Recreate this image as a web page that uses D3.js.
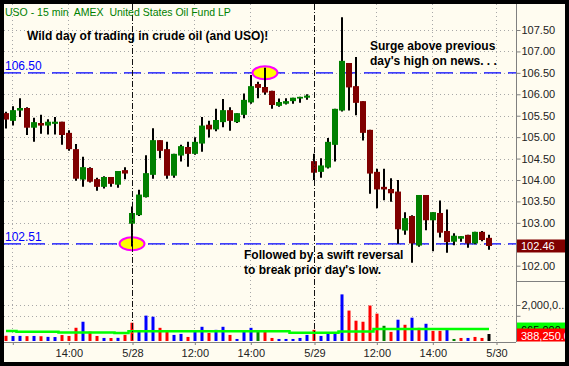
<!DOCTYPE html>
<html>
<head>
<meta charset="utf-8">
<script src="https://cdnjs.cloudflare.com/ajax/libs/d3/7.8.5/d3.min.js"></script>
<style>
  body { margin: 0; background: #000; }
  svg { display: block; font-family: "Liberation Sans", Arial, sans-serif; }
</style>
</head>
<body>
<svg width="569" height="366"></svg>
<script>
// USO 15 min bars, 5/27 (partial) .. 5/29
const opens = [
  105.56,105.38,105.62,105.68,105.22,105.33,105.27,105.31,105.36,105.10,104.72,104.01,104.28,104.02,103.84,104.07,103.89,104.23,
  102.98,103.18,103.60,104.12,104.93,104.72,104.10,104.57,104.77,104.61,104.85,105.29,105.18,105.35,105.63,105.35,105.52,105.81,106.24,106.17,106.08,105.73,105.78,105.84,105.90,105.92,
  104.44,104.19,104.29,104.82,105.62,106.73,106.19,105.84,105.17,104.19,103.84,103.79,103.73,102.82,103.16,102.47,103.65,103.06,103.23,102.81,102.56,102.63,102.72,102.52,102.79,102.65]
const highs = [
  105.59,105.72,105.91,105.70,105.45,105.52,105.42,105.47,105.36,105.16,104.84,104.54,104.30,104.05,104.09,104.07,104.21,104.30,
  103.38,103.77,104.58,105.21,104.93,104.89,104.61,104.82,104.89,105.00,105.47,105.38,105.66,105.89,105.70,105.56,106.02,106.45,106.29,106.62,106.08,105.90,105.91,105.92,105.94,106.00,
  104.61,104.51,104.98,105.66,107.80,106.73,106.87,105.84,105.17,104.26,104.26,104.04,104.00,103.25,103.18,103.65,103.65,103.25,103.52,103.31,102.76,102.69,102.72,102.79,102.81,102.72]
const lows = [
  105.20,105.27,105.47,105.05,104.89,105.08,105.06,105.06,104.82,104.68,103.98,103.84,103.94,103.75,103.80,103.84,103.82,104.02,
  102.45,103.16,103.59,104.03,104.51,104.03,104.05,104.43,104.31,104.59,104.66,104.99,105.14,105.23,105.15,105.33,105.44,105.78,105.91,105.99,105.66,105.71,105.76,105.78,105.80,105.87,
  104.00,104.05,104.27,104.43,105.60,105.62,105.51,104.92,103.68,103.34,103.53,103.49,102.51,102.72,102.07,102.44,102.83,102.34,102.66,102.30,102.48,102.56,102.42,102.50,102.57,102.37]
const closes = [
  105.41,105.63,105.68,105.22,105.35,105.27,105.36,105.36,105.05,104.72,104.03,104.30,103.96,103.84,104.07,103.91,104.21,104.15,
  103.23,103.66,104.16,104.93,104.68,104.10,104.61,104.79,104.61,104.89,105.27,105.18,105.40,105.63,105.38,105.56,105.87,106.19,106.15,106.04,105.75,105.82,105.84,105.92,105.94,105.97,
  104.17,104.34,104.89,105.66,106.78,106.16,105.80,105.10,104.15,103.78,103.78,103.69,102.85,103.11,102.52,103.65,103.06,103.25,102.77,102.55,102.70,102.69,102.52,102.79,102.60,102.46]

const volumes = [
  290000,275000,285000,270000,280000,265000,230000,220000,330000,280000,735000,1070000,520000,280000,170000,165000,175000,340000,
  1015000,563000,1410000,1350000,732000,563000,338000,394000,225000,507000,789000,450000,620000,789000,338000,113000,563000,732000,563000,563000,169000,113000,113000,113000,169000,338000,
  620000,282000,450000,394000,2590000,1690000,1127000,1070000,1970000,1520000,845000,507000,1183000,901000,1295000,732000,957000,563000,563000,676000,113000,169000,169000,225000,169000,388250]
const volDir = ('dbbdbdbbdddbddbdbd' + 'dbbbddbbdbbdbbdbbbnddbbbbb' + 'dbbbbdddddndbdbdbddbndbdd').split('')
const volAvg = [
  560000,560000,510000,510000,510000,510000,510000,510000,470000,470000,470000,470000,470000,470000,470000,470000,450000,450000,
  535000,535000,535000,535000,535000,535000,535000,535000,535000,535000,535000,535000,535000,535000,535000,535000,535000,535000,535000,535000,535000,535000,535000,455000,455000,455000,
  455000,455000,455000,455000,525000,525000,525000,525000,525000,665000,665000,665000,665000,665000,665000,665000,665000,665000,665000,665000,665000,665000,665000,665000,665000,665000]

const priceTicks = [102, 102.5, 103, 103.5, 104, 104.5, 105, 105.5, 106, 106.5, 107, 107.5]
const volTicks = [1400000, 2000000]
const volTickLabels = ['', '2,000,0...']
const timeTicks = [0.9, 8.9, 18, 26.9, 34.9, 44, 52.9, 60.9, 70]
const timeLabels = ['', '14:00', '5/28', '12:00', '14:00', '5/29', '12:00', '14:00', '5/30']
const dayStarts = [18, 44]
const levels = [106.50, 102.51]
const levelBars = [37, 18]

const svg = d3.select("svg")
const width = +svg.attr('width')
const height = +svg.attr('height')
const axisX = 516, volBase = 342

svg.append('rect').attr('width', width).attr('height', height).attr('fill', '#000')
svg.append('rect').attr('x', 4).attr('y', 4).attr('width', width - 8).attr('height', height - 8).attr('fill', '#fffcf0')

const xScale = d3.scaleLinear().domain([0, 69]).range([6, 489])
const yScale = d3.scaleLinear().domain([102, 107.5]).range([265.7, 30])
const vScale = d3.scaleLinear().domain([0, 2000000]).range([341, 305])

svg.append('clipPath').attr('id', 'plotclip')
  .append('rect').attr('x', 4).attr('y', 4).attr('width', axisX - 4).attr('height', volBase - 4)

const g = svg.append('g').attr('clip-path', 'url(#plotclip)')

// dotted grid
g.selectAll('.hgrid').data(priceTicks).enter().append('line')
  .attr('x1', 4).attr('x2', axisX)
  .attr('y1', d => Math.round(yScale(d)) + 0.5).attr('y2', d => Math.round(yScale(d)) + 0.5)
  .attr('stroke', '#a8a8a8').attr('stroke-dasharray', '1,3')
g.selectAll('.vgrid').data(volTicks).enter().append('line')
  .attr('x1', 4).attr('x2', axisX)
  .attr('y1', d => Math.round(vScale(d)) + 0.5).attr('y2', d => Math.round(vScale(d)) + 0.5)
  .attr('stroke', '#a8a8a8').attr('stroke-dasharray', '1,3')
g.selectAll('.tgrid').data(timeTicks.filter(t => !dayStarts.includes(t))).enter().append('line')
  .attr('x1', d => Math.round(xScale(d)) + 0.5).attr('x2', d => Math.round(xScale(d)) + 0.5)
  .attr('y1', 4).attr('y2', volBase)
  .attr('stroke', '#a8a8a8').attr('stroke-dasharray', '1,3')

// day separators
svg.selectAll('.day').data(dayStarts).enter().append('line')
  .attr('x1', d => Math.round(xScale(d)) + 0.5).attr('x2', d => Math.round(xScale(d)) + 0.5)
  .attr('y1', 4).attr('y2', volBase + 3)
  .attr('stroke', '#111').attr('stroke-dasharray', '6,2,1,2')

// blue levels
g.selectAll('.level').data(levels).enter().append('line')
  .attr('x1', 4).attr('x2', axisX)
  .attr('y1', d => yScale(d)).attr('y2', d => yScale(d))
  .attr('stroke', '#0000ff').attr('stroke-width', 1.3).attr('stroke-dasharray', '17,7')
g.selectAll('.levelLabel').data(levels).enter().append('text')
  .attr('x', 5).attr('y', d => yScale(d) - 3)
  .attr('font-size', '12px').attr('fill', '#0000ff')
  .text(d => d.toFixed(2))

g.selectAll('ellipse').data(levels).enter().append('ellipse')
  .attr('cx', (d, i) => xScale(levelBars[i]))
  .attr('cy', d => yScale(d))
  .attr('rx', 12.5).attr('ry', 6.5)
  .attr('fill', '#ffff00').attr('stroke', '#ff00ff').attr('stroke-width', 2)

// candles
const idx = d3.range(opens.length)
g.selectAll('.wick').data(idx).enter().append('line')
  .attr('x1', i => xScale(i)).attr('x2', i => xScale(i))
  .attr('y1', i => yScale(highs[i])).attr('y2', i => yScale(lows[i]))
  .attr('stroke', '#000').attr('stroke-width', 2)
g.selectAll('.body').data(idx).enter().append('rect')
  .attr('x', i => xScale(i) - 3).attr('width', 6)
  .attr('y', i => yScale(Math.max(opens[i], closes[i])))
  .attr('height', i => Math.max(1.5, Math.abs(yScale(opens[i]) - yScale(closes[i]))))
  .attr('fill', i => closes[i] >= opens[i] ? '#008000' : '#800000')

// volume
const volColor = { b: '#0000ff', d: '#ff0000', n: '#008000' }
g.selectAll('.vol').data(idx).enter().append('rect')
  .attr('x', i => xScale(i) - 1.5).attr('width', 3)
  .attr('y', i => vScale(volumes[i]))
  .attr('height', i => vScale(0) - vScale(volumes[i]))
  .attr('fill', i => volColor[volDir[i]])

g.append('path').datum(idx)
  .attr('fill', 'none').attr('stroke', '#00ff00').attr('stroke-width', 2.5)
  .attr('d', d3.line().x(i => xScale(i)).y(i => vScale(volAvg[i])).curve(d3.curveStep))

// axes
svg.append('line').attr('x1', axisX + 0.5).attr('x2', axisX + 0.5).attr('y1', 4).attr('y2', volBase)
  .attr('stroke', '#808080')
svg.append('line').attr('x1', 4).attr('x2', axisX).attr('y1', volBase + 0.5).attr('y2', volBase + 0.5)
  .attr('stroke', '#808080')
svg.append('line').attr('x1', axisX).attr('x2', width - 4).attr('y1', 281.5).attr('y2', 281.5)
  .attr('stroke', '#808080')

const yAxis = d3.axisRight(yScale).tickValues(priceTicks).tickSize(4).tickPadding(1)
  .tickFormat(d3.format('.2f'))
const yAxisG = svg.append('g').attr('transform', `translate(${axisX + 0.5},0)`).call(yAxis)
yAxisG.select('.domain').remove()
yAxisG.selectAll('line').attr('stroke', '#808080')
yAxisG.selectAll('text').attr('font-size', '11px').attr('font-family', null).attr('fill', '#222')

const vAxis = d3.axisRight(vScale).tickValues(volTicks).tickSize(4).tickPadding(1)
  .tickFormat((d, i) => volTickLabels[i])
const vAxisG = svg.append('g').attr('transform', `translate(${axisX + 0.5},0)`).call(vAxis)
vAxisG.select('.domain').remove()
vAxisG.selectAll('line').attr('stroke', '#808080')
vAxisG.selectAll('text').attr('font-size', '11px').attr('font-family', null).attr('fill', '#222')

const xAxis = d3.axisBottom(xScale).tickValues(timeTicks).tickSize(3).tickPadding(4)
  .tickFormat((d, i) => timeLabels[i])
const xAxisG = svg.append('g').attr('transform', `translate(0.5,${volBase})`).call(xAxis)
xAxisG.select('.domain').remove()
xAxisG.selectAll('line').attr('stroke', '#808080')
xAxisG.selectAll('text').attr('font-size', '11px').attr('font-family', null).attr('fill', '#222')

// last value boxes
const last = opens.length - 1
svg.append('rect').attr('x', axisX + 1).attr('y', yScale(closes[last]) - 6.5)
  .attr('width', width - axisX).attr('height', 13).attr('fill', '#800000')
svg.append('text').attr('x', axisX + 5).attr('y', yScale(closes[last]) + 4.5)
  .attr('font-size', '11px').attr('fill', '#fff').text(closes[last].toFixed(2))

svg.append('rect').attr('x', axisX + 1).attr('y', vScale(volAvg[last]) - 6.5)
  .attr('width', width - axisX).attr('height', 13).attr('fill', '#00ff00')
svg.append('text').attr('x', axisX + 5).attr('y', vScale(volAvg[last]) + 4.5)
  .attr('font-size', '11px').attr('fill', '#000').text(d3.format(',')(volAvg[last]))
svg.append('rect').attr('x', axisX + 1).attr('y', vScale(volumes[last]) - 5.5)
  .attr('width', width - axisX).attr('height', 13).attr('fill', '#ff0000')
svg.append('text').attr('x', axisX + 5).attr('y', vScale(volumes[last]) + 5.5)
  .attr('font-size', '11px').attr('fill', '#fff').text(d3.format(',.2f')(volumes[last]))

// titles and notes
svg.append('text').attr('x', 5).attr('y', 16).attr('font-size', '10.5px').attr('fill', '#008000')
  .attr('xml:space', 'preserve')
  .text('USO - 15 min  AMEX  United States Oil Fund LP')

const notes = [
  { x: 27, y: 40, t: 'Wild day of trading in crude oil (and USO)!' },
  { x: 370, y: 50, t: 'Surge above previous' },
  { x: 370, y: 65, t: "day's high on news. . ." },
  { x: 244, y: 259, t: 'Followed by a swift reversal' },
  { x: 244, y: 274, t: "to break prior day's low." }
]
svg.selectAll('.note').data(notes).enter().append('text')
  .attr('x', d => d.x).attr('y', d => d.y)
  .attr('font-size', '12px').attr('font-weight', 'bold').attr('fill', '#000')
  .text(d => d.t)

// frame
svg.append('rect').attr('x', 2).attr('y', 2).attr('width', width - 4).attr('height', height - 4)
  .attr('fill', 'none').attr('stroke', '#000').attr('stroke-width', 4)
</script>
</body>
</html>
